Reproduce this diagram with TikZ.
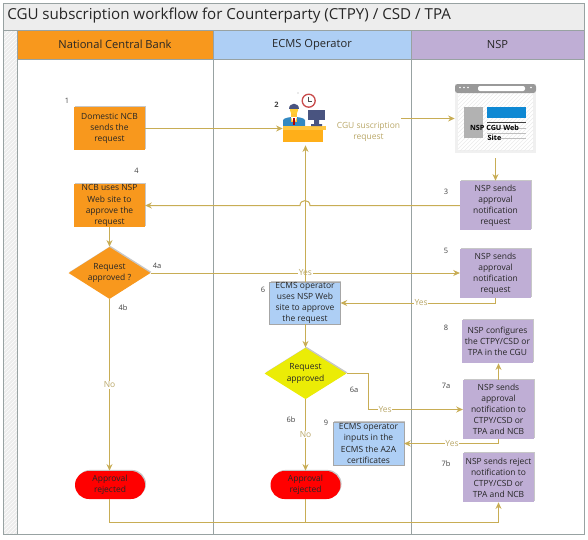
\documentclass[tikz,border=0pt]{standalone}
\usepackage{fontspec}
\setmainfont{Open Sans}
\usetikzlibrary{arrows.meta,shapes.geometric,shapes.misc,shadows,patterns}
\definecolor{conn}{HTML}{C8AD55}
\definecolor{connt}{HTML}{B9A768}
\definecolor{orangeb}{HTML}{F8981D}
\definecolor{blueb}{HTML}{AECFF5}
\definecolor{purpleb}{HTML}{BFAED5}
\definecolor{frame}{HTML}{98A2A2}
\definecolor{stripe}{HTML}{EDEDED}
\tikzset{
  softshadow/.style={drop shadow={shadow xshift=.8pt,shadow yshift=.8pt,opacity=.22,fill=black}},
  body/.style={font=\fontsize{6.35}{8.3}\selectfont,align=center,text=black!85,inner sep=0pt},
  box/.style={body,minimum width=53pt,softshadow},
  obox/.style={box,fill=orangeb},
  pbox/.style={box,fill=purpleb},
  bbox/.style={box,fill=blueb,draw=black!35,line width=.3pt},
  dia/.style={body,diamond,aspect=1.6,softshadow},
  stop/.style={body,rounded rectangle,minimum width=52.5pt,minimum height=21pt,fill=red,softshadow},
  head/.style={font=\fontsize{8.35}{10}\selectfont,text=black!85,inner sep=0pt,minimum height=21.75pt,draw=frame,line width=.5pt},
  nr/.style={font=\fontsize{5.6}{7}\selectfont,text=black!75,inner sep=0pt},
  lab/.style={font=\fontsize{6.35}{8.3}\selectfont,text=connt,fill=white,inner sep=.5pt,align=center},
  link/.style={draw=conn,line width=.75pt,-{Stealth[length=5pt,width=4.5pt]}},
  plain/.style={draw=conn,line width=.75pt}
}
\begin{document}
\begin{tikzpicture}[x=.75pt,y=-.75pt]
\useasboundingbox (0,0) rectangle (588,539);
% frame
\fill[stripe] (3,3) rectangle (584,30);
\fill[stripe] (3,30) rectangle (17,534);
\fill[pattern=north east lines,pattern color=white] (3,30) rectangle (17,534);
\draw[frame,line width=.5pt] (3,3) rectangle (584,534);
\draw[frame,line width=.5pt] (17,30) rectangle (584,534);
\draw[frame,line width=.5pt] (3,30) -- (584,30);
\draw[frame,line width=.6pt] (213,59) -- (213,534) (411,59) -- (411,534);
\node[anchor=west,inner sep=0pt,font=\fontsize{11.35}{13}\selectfont,text=black!85] (title) at (7,16) {CGU subscription workflow for Counterparty (CTPY) / CSD / TPA};
\node[head,fill=orangeb,minimum width=147pt] (h1) at (115,44.5) {National Central Bank};
\node[head,fill=blueb,minimum width=148.5pt] (h2) at (312,44.5) {ECMS Operator};
\node[head,fill=purpleb,minimum width=129.75pt] (h3) at (497.5,44.5) {NSP};
% person icon
\node[inner sep=0pt,minimum width=30pt,minimum height=24pt] (person) at (303,129) {};
\fill[blue!40!cyan!70!black!80] (283,126) -- (283,120) .. controls (285,116) and (303,116) .. (305,120) -- (305,126) -- cycle;
\fill[orange!60!yellow!80] (291,113) rectangle (297,122);
\fill[white] (291,117) -- (297,117) -- (294,124) -- cycle;
\fill[red!70!black] (293.3,118) rectangle (294.7,125);
\fill[orange!50!yellow!80] (294,110) circle[radius=4.2];
\fill[black!70!cyan!60!blue] (289,109) .. controls (289,102) and (299,102) .. (299,109) -- cycle;
\fill[orange!60!yellow!75] (283,126) rectangle (326,130);
\fill[orange!70!yellow!90] (283,130) rectangle (323,142);
\fill[black!70!cyan!60!blue] (308,110) rectangle (325,120);
\fill[black!70!cyan!60!blue] (314,120) rectangle (319,124) (311,124) rectangle (322,126);
\draw[red!70!black!70!white,line width=1pt,fill=white] (308.7,100.7) circle[radius=6.5];
\draw[black!70,line width=.5pt] (308.7,96.5) -- (308.7,101.5) -- (312,101.5);
\fill[black] (298,93) circle[radius=.4];
% web icon
\node[inner sep=0pt,minimum width=60.75pt,minimum height=51.75pt] (web) at (495.5,118.5) {};
\fill[black!6] (455,84) rectangle (536,153);
\fill[white] (458,93) rectangle (533,150);
\fill[pattern=north east lines,pattern color=black!8] (458,93) rectangle (533,150);
\fill[black!40,rounded corners=2pt] (455,84) rectangle (536,93);
\fill[white,rounded corners=1.5pt] (478,86) rectangle (525,91);
\fill[white] (460,87.5) circle[radius=.8] (464,87.5) circle[radius=.8] (468,87.5) circle[radius=.8] (531,87.5) circle[radius=.8];
\fill[black!30] (464,107) rectangle (483,138);
\fill[cyan!70!blue] (487,107) rectangle (526,118);
\draw[black!75,line width=.6pt] (487,122.5) -- (526,122.5);
\draw[black!25,line width=.5pt] (487,128) -- (526,128) (487,133) -- (526,133) (487,138) -- (526,138);
\node[font=\fontsize{5.4}{7.6}\selectfont\bfseries,align=center,inner sep=0pt] (webt) at (494.5,132.5) {NSP CGU Web\\Site};
% boxes
\node[obox,minimum height=32.25pt] (n1) at (109.5,128.5) {Domestic NCB\\sends the\\request};
\node[obox,minimum height=32.25pt] (n4) at (109.5,205.5) {NCB uses NSP\\Web site to\\approve the\\request};
\node[dia,fill=orangeb,minimum width=61.5pt,minimum height=39pt] (d1) at (109.5,273) {Request\\approved ?};
\node[stop] (r1) at (110,485) {Approval\\rejected};
\node[bbox,minimum height=31.5pt] (n6) at (305,303) {ECMS operator\\uses NSP Web\\site to approve\\the request};
\node[dia,fill=yellow!92!green,minimum width=61.5pt,minimum height=38.5pt] (d2) at (305.5,373.5) {Request\\approved};
\node[stop] (r2) at (305.5,485) {Approval\\rejected};
\node[bbox,minimum height=32pt] (n9) at (368.5,443.5) {ECMS operator\\inputs in the\\ECMS the A2A\\certificates};
\node[pbox,minimum height=36.75pt] (n3) at (495.5,205.5) {NSP sends\\approval\\notification\\request};
\node[pbox,minimum height=36.75pt] (n5) at (495.5,273.5) {NSP sends\\approval\\notification\\request};
\node[pbox,minimum height=32.25pt] (n8) at (497.5,341.5) {NSP configures\\the CTPY/CSD or\\TPA in the CGU};
\node[pbox,minimum height=44.25pt] (n7a) at (498.5,409.5) {NSP sends\\approval\\notification to\\CTPY/CSD or\\TPA and NCB};
\node[pbox,minimum height=36.75pt] (n7b) at (498.5,477.5) {NSP sends reject\\notification to\\CTPY/CSD or\\TPA and NCB};
% numbers
\node[nr] (k1) at (67,101) {1};
\node[nr] (k2) at (276.5,105) {\textbf{2}};
\node[nr] (k4) at (136.5,171) {4};
\node[nr] (k4a) at (157,266) {4a};
\node[nr] (k4b) at (123,308) {4b};
\node[nr] (k3) at (446,192) {3};
\node[nr] (k5) at (446,251) {5};
\node[nr] (k8) at (446,328) {8};
\node[nr] (k7a) at (446,386) {7a};
\node[nr] (k7b) at (446,464) {7b};
\node[nr] (k6) at (263,290) {6};
\node[nr] (k6a) at (354,390) {6a};
\node[nr] (k6b) at (291,420) {6b};
\node[nr] (k9) at (326,423) {9};
% connectors
\node[lab,fill=none] (cgu) at (368.5,131.5) {CGU suscription\\request};
\draw[link] (cgu.east |- web.west) -- (web.west);
\draw[link] (n1.east) -- (n1.east -| person.west);
\draw[link] (web.south |- 0,158) -- (n3.north);
\coordinate (hopR) at (310,205.5);
\coordinate (hopL) at (300,205.5);
\draw[link] (n3.west) -- (hopR) .. controls +(0,-6.5) and +(0,-6.5) .. (hopL) -- (n4.east);
\draw[link] (n4.south) -- (d1.north);
\draw[link] (d1.east) -- node[lab,pos=.5] {Yes} (n5.west |- d1.east);
\draw[link] (d1.south) -- node[lab,pos=.5] {No} (r1.north -| d1.south);
\draw[link] (n6.north -| d2.north) -- (d2.north |- person.south);
\draw[link] (n5.south) |- node[lab,pos=.74] {Yes} (n6.east);
\draw[link] (n6.south -| d2.north) -- (d2.north);
\draw[link] (d2.east) -| (368,409.5) -- node[lab,pos=.18] {Yes} (n7a.west);
\draw[link] (d2.south) -- node[lab,pos=.49] {No} (r2.north);
\draw[link] (n7a.south) |- node[lab,pos=.746] {Yes} (n9.east);
\draw[link] (n7a.north) -- (n7a.north |- n8.south);
\draw[link] (r1.south -| d1.south) |- (498.5,522) -- (n7b.south);
\draw[plain] (r2.south) -- (r2.south |- 0,522);
\end{tikzpicture}
\end{document}
